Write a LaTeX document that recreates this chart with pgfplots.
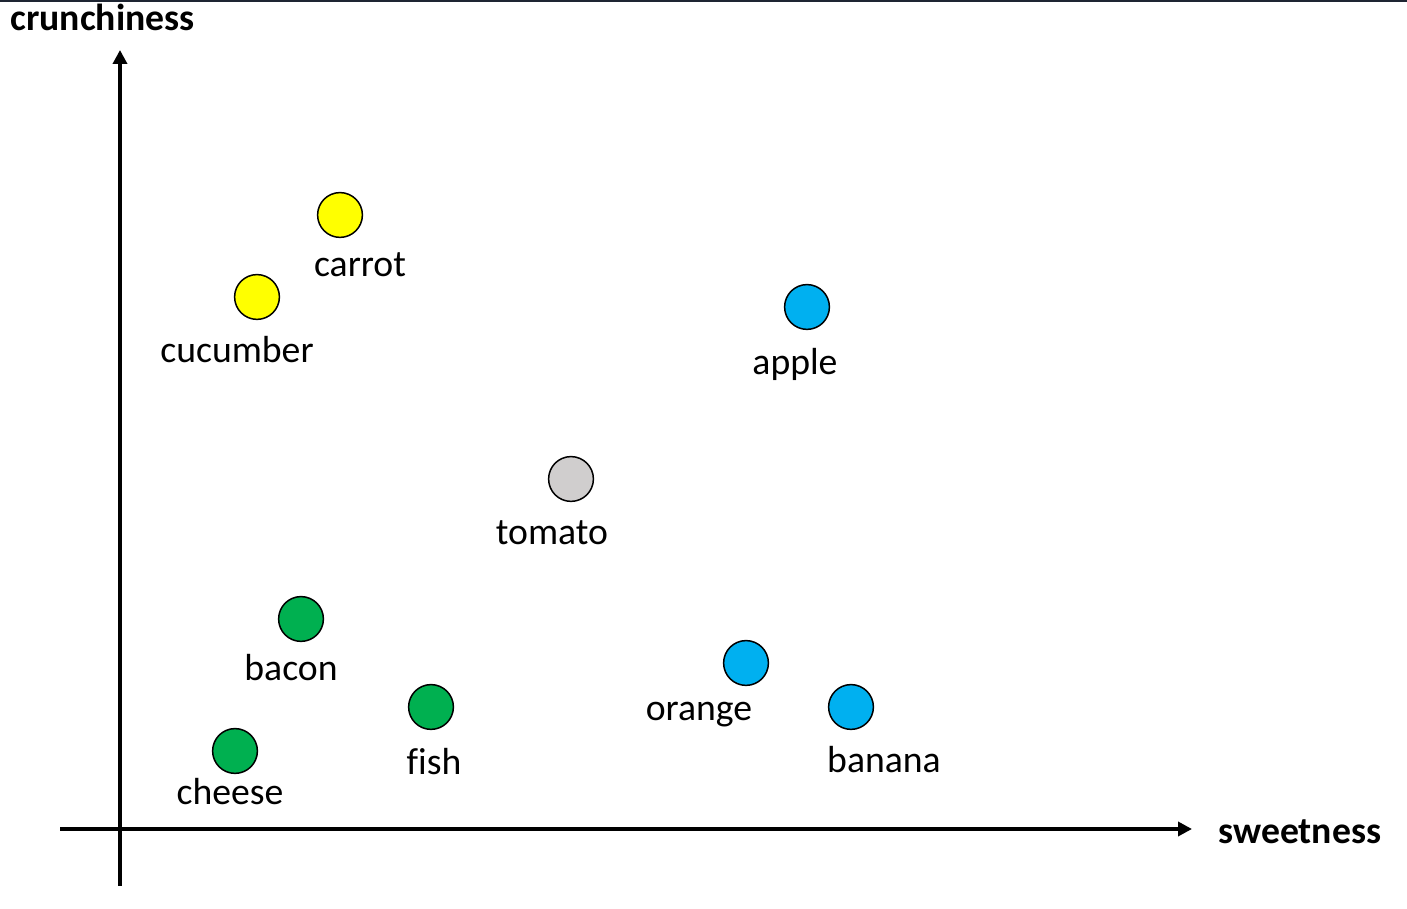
\documentclass[border=0pt]{standalone}
\usepackage{pgfplots}
\pgfplotsset{compat=1.18}
\usepackage{pgfplotstable}
\usetikzlibrary{arrows.meta}
\usepackage{fontspec}
\setmainfont{Carlito}[Ligatures=CommonOff]
\newcommand\labelfont{\fontsize{18.85}{22}\selectfont}
\definecolor{cyellow}{HTML}{FFFF00}
\definecolor{cblue}{HTML}{00B0F0}
\definecolor{cgreen}{HTML}{00B050}
\definecolor{cgray}{HTML}{D0CECE}
\definecolor{topline}{HTML}{1E2532}

\pgfplotstableread{
x y
220 614
137 532
}\yellowpts
\pgfplotstableread{
x y
687 522
626 166
731 122
}\bluepts
\pgfplotstableread{
x y
181 210
311 122
115 78
}\greenpts
\pgfplotstableread{
x y
451 350
}\graypts
\pgfplotstableread{
lx ly label
240 552 carrot
117 466 cucumber
675 454 apple
432 284 tomato
171 148 bacon
579 108 orange
314 54 fish
764 56 banana
110 24 cheese
}\labels

\begin{document}
\begin{tikzpicture}
\begin{axis}[
  width=703.5pt, height=454.5pt, scale only axis,
  xmin=-120, xmax=1287, ymin=-80, ymax=829,
  axis lines=none, clip=false,
  every node near coord/.style={anchor=base, inner sep=0pt, font=\labelfont, text=black},
]
\coordinate (BL) at (axis cs:-120,-80);
\coordinate (TR) at (axis cs:1287,829);
\draw[topline, line width=1pt] (axis cs:-120,828) -- (axis cs:1287,828);
\draw[line width=2.2pt, -{Triangle[length=7pt,width=7pt]}] (axis cs:-60,0) -- (axis cs:1072,0);
\draw[line width=2.2pt, -{Triangle[length=7pt,width=7pt]}] (axis cs:0,-57) -- (axis cs:0,779);
\node[anchor=base west, inner sep=0pt, font=\labelfont\bfseries] at (axis cs:-110,798) {crunchiness};
\node[anchor=base west, inner sep=0pt, font=\labelfont\bfseries] at (axis cs:1098,-15) {sweetness};

\addplot[only marks, mark=*, mark size=11.2pt, mark options={fill=cyellow, draw=black, line width=0.75pt}] table[x=x,y=y] {\yellowpts};
\addplot[only marks, mark=*, mark size=11.2pt, mark options={fill=cblue, draw=black, line width=0.75pt}] table[x=x,y=y] {\bluepts};
\addplot[only marks, mark=*, mark size=11.2pt, mark options={fill=cgreen, draw=black, line width=0.75pt}] table[x=x,y=y] {\greenpts};
\addplot[only marks, mark=*, mark size=11.2pt, mark options={fill=cgray, draw=black, line width=0.75pt}] table[x=x,y=y] {\graypts};
\addplot[only marks, mark=none, nodes near coords, point meta=explicit symbolic] table[x=lx,y=ly,meta=label] {\labels};
\end{axis}
\pgfresetboundingbox
\useasboundingbox (BL) rectangle (TR);
\end{tikzpicture}
\end{document}
